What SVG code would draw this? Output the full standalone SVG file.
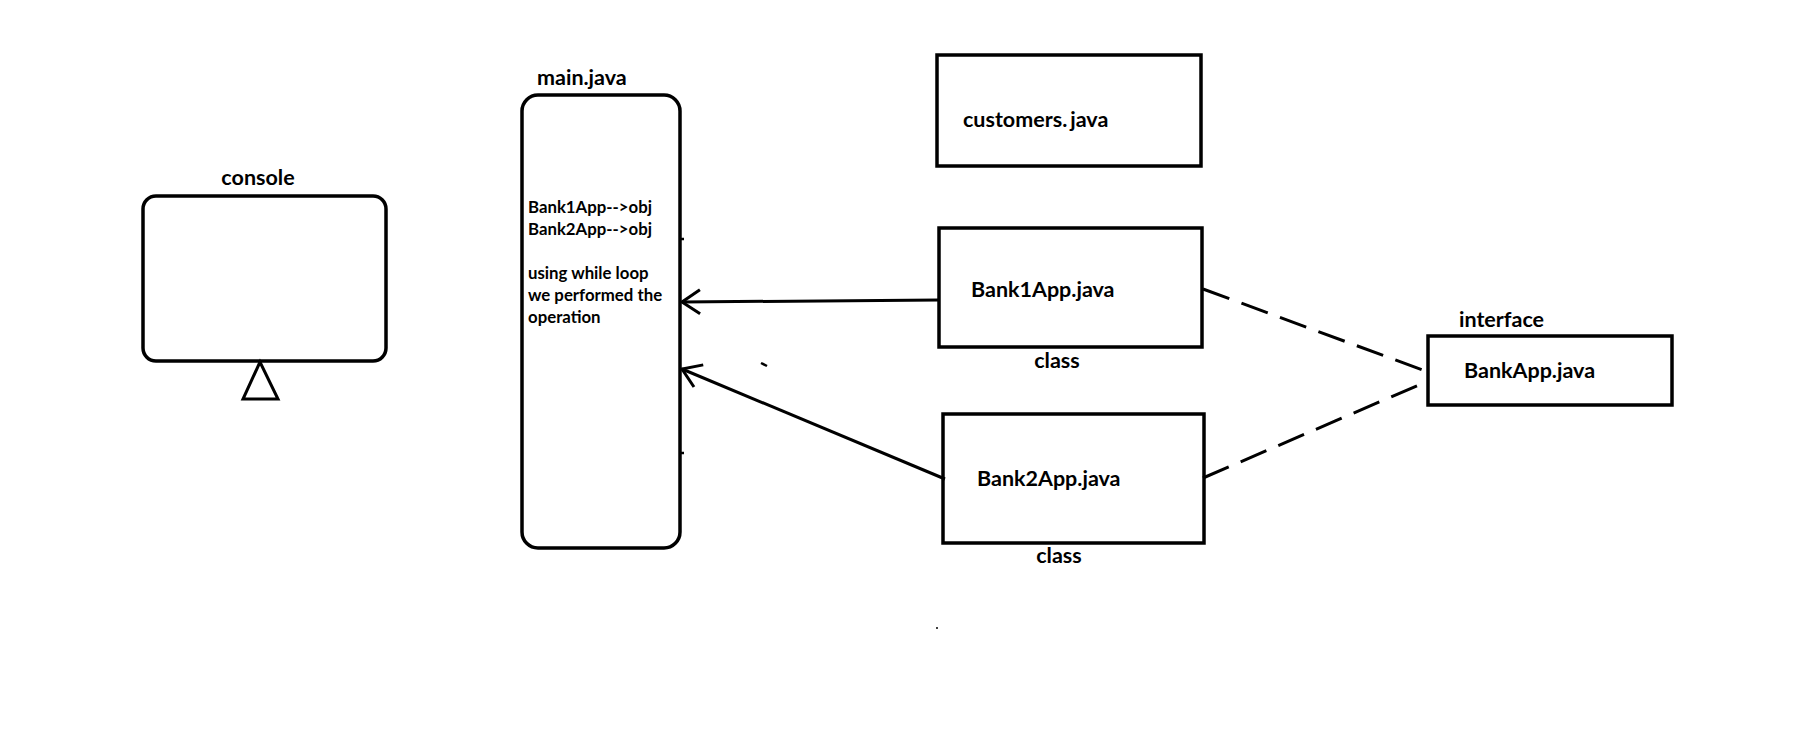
<svg xmlns="http://www.w3.org/2000/svg" width="1796" height="735" viewBox="0 0 1796 735">
<style>
.box{fill:#fff;stroke:#000;stroke-width:3.5}
.lbl{font-family:Lato,"Open Sans","Liberation Sans",sans-serif;font-weight:bold;font-size:21.5px;fill:#000}
.sm{font-family:Lato,"Open Sans","Liberation Sans",sans-serif;font-weight:bold;font-size:16.8px;fill:#000}
.conn{fill:none;stroke:#000;stroke-width:3}
.dash{fill:none;stroke:#000;stroke-width:3;stroke-dasharray:28 13}
</style>
<defs>
<marker id="openArrow" markerUnits="userSpaceOnUse" markerWidth="40" markerHeight="40" refX="0" refY="0" orient="auto" overflow="visible">
<path d="M -18 -12 L 0 0 L -18 12" fill="none" stroke="#000" stroke-width="3"/>
</marker>
</defs>
<rect width="1796" height="735" fill="#fff"/>
<g id="console">
<text class="lbl" x="258" y="185" text-anchor="middle">console</text>
<rect class="box" x="143" y="196" width="243" height="165" rx="13"/>
<polygon points="260,362 243,399 278,399" fill="#fff" stroke="#000" stroke-width="3"/>
</g>
<g id="main">
<text class="lbl" x="537" y="85">main.java</text>
<rect class="box" x="522" y="95" width="158" height="453" rx="16"/>
<text class="sm" x="528" y="213">Bank1App--&gt;obj</text>
<text class="sm" x="528" y="235">Bank2App--&gt;obj</text>
<text class="sm" x="528" y="279">using while loop</text>
<text class="sm" x="528" y="301">we performed the</text>
<text class="sm" x="528" y="323">operation</text>
</g>
<g id="customers">
<rect class="box" x="937" y="55" width="264" height="111"/>
<text class="lbl" x="963" y="127">customers.<tspan dx="3">java</tspan></text>
</g>
<g id="bank1">
<rect class="box" x="939" y="228" width="263" height="119"/>
<text class="lbl" x="971" y="297">Bank1App.java</text>
<text class="lbl" x="1057" y="368" text-anchor="middle">class</text>
</g>
<g id="bank2">
<rect class="box" x="943" y="414" width="261" height="129"/>
<text class="lbl" x="977" y="486">Bank2App.java</text>
<text class="lbl" x="1059" y="563" text-anchor="middle">class</text>
</g>
<g id="bankapp">
<text class="lbl" x="1459" y="327">interface</text>
<rect class="box" x="1428" y="336" width="244" height="69"/>
<text class="lbl" x="1464" y="378">BankApp.java</text>
</g>
<g id="connectors">
<line class="conn" x1="939" y1="300" x2="682" y2="302" marker-end="url(#openArrow)"/>
<line class="conn" x1="945" y1="479" x2="682" y2="369" marker-end="url(#openArrow)"/>
<line class="dash" x1="1203" y1="289" x2="1428" y2="372"/>
<line class="dash" x1="1203" y1="478" x2="1428" y2="381"/>
</g>
<g id="marks" stroke="#000" stroke-width="2.5">
<line x1="761" y1="363" x2="767" y2="366"/>
<line x1="680" y1="239" x2="684" y2="239"/>
<line x1="680" y1="453" x2="684" y2="453"/>
<line x1="937" y1="627" x2="937" y2="629" stroke-width="1.5"/>
</g>
</svg>
